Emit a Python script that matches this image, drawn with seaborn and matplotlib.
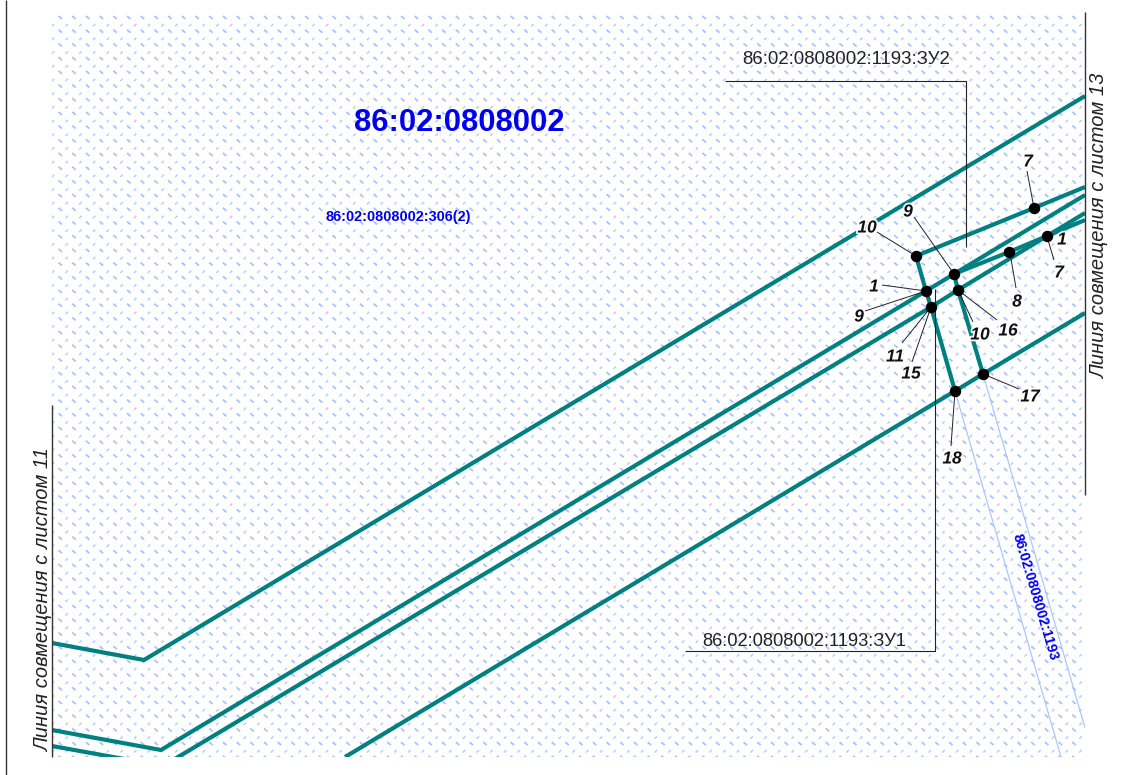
import matplotlib
matplotlib.use("Agg")
import matplotlib.pyplot as plt
import matplotlib.patheffects as pe
from matplotlib.collections import LineCollection
from matplotlib.patches import Rectangle
import numpy as np
import pandas as pd
import seaborn as sns

boundary_lines = {
    "a": [(52, 643), (144, 660), (1085, 96)],
    "b": [(52, 730), (161, 750), (926, 291), (954, 274), (1085, 195)],
    "c": [(52, 746), (163, 766), (931, 307), (958, 290), (1047, 236), (1085, 213)],
    "d": [(345, 757), (955, 391), (983, 374), (1085, 313)],
    "e": [(916, 256), (1034, 208), (1085, 187)],
    "f": [(954, 274), (1009, 252), (1047, 236), (1085, 220)],
    "g": [(916, 256), (926, 291), (931, 307), (955, 391)],
    "h": [(954, 274), (958, 290), (983, 374)],
}
parcel_lines = {
    "p1": [(955, 391), (1061, 757)],
    "p2": [(983, 374), (1085, 728)],
}
callout_lines = {
    "zu2": [(725, 81), (966, 81), (966, 247)],
    "zu1": [(685, 651), (935, 651), (935, 289)],
}
sheet_lines = {
    "left": [(52, 405), (52, 757)],
    "right": [(1085, 12), (1085, 495)],
    "frame": [(6, 0), (6, 775)],
}
dots_x = [916, 1034, 1047, 1009, 954, 926, 958, 931, 955, 983]
dots_y = [256, 208, 236, 252, 274, 291, 290, 307, 391, 374]

point_labels = ["10", "9", "7", "1", "7", "8", "1", "9", "10", "16", "11", "15", "17", "18"]
point_label_x = [867, 908, 1028, 1062, 1059, 1017, 874, 859, 980, 1008, 895, 911, 1030, 952]
point_label_y = [228, 212, 162, 240, 273, 302, 287, 317, 335, 331, 357, 374, 397, 459]
leaders = [
    [(877, 232), (916, 256)],
    [(914, 217), (954, 274)],
    [(1027, 171), (1034, 208)],
    [(1048, 240), (1054, 260)],
    [(1010, 253), (1016, 288)],
    [(882, 285), (926, 291)],
    [(865, 311), (926, 291)],
    [(958, 290), (973, 322)],
    [(958, 290), (997, 320)],
    [(931, 307), (902, 343)],
    [(931, 307), (912, 362)],
    [(983, 374), (1019, 389)],
    [(955, 391), (951, 446)],
]


def draw_lines(ax, lines, color, width, clip=None):
    for name, pts in lines.items():
        before = len(ax.lines)
        df = pd.DataFrame(pts, columns=["x", "y"])
        sns.lineplot(data=df, x="x", y="y", sort=False, estimator=None, color=color,
                     linewidth=width, ax=ax, legend=False)
        for line in ax.lines[before:]:
            line.set_solid_capstyle("butt")
            if clip is not None:
                line.set_clip_path(clip)


sns.set_style("white")
plt.rcParams["font.family"] = ["Liberation Sans", "DejaVu Sans"]

fig, ax = plt.subplots(figsize=(11.44, 7.75), dpi=100)
ax.set_position([0, 0, 1, 1])

clip = Rectangle((52, 12), 1033, 745, transform=ax.transData)

# background hatch of the quarter, just a texture
gx, gy = np.meshgrid(np.arange(53, 1085, 13.7), np.arange(11.5, 757, 13.7))
gx, gy = gx.ravel(), gy.ravel()
keep = (gy > 12)
slash = [[(x - 1.2, y + 1.2), (x + 1.2, y - 1.2)] for x, y in zip(gx[keep], gy[keep])]
back = [[(x + 5.5, y + 4.5), (x + 9, y + 7.5)] for x, y in zip(gx, gy)]
tex = LineCollection(slash, colors="#b6ceff", linewidths=1.1)
ax.add_collection(tex)
tex.set_clip_path(clip)
tex2 = LineCollection(back, colors="#a4c2ff", linewidths=1.25)
ax.add_collection(tex2)
tex2.set_clip_path(clip)

draw_lines(ax, parcel_lines, "#a9c8ff", 0.9, clip)
draw_lines(ax, boundary_lines, "#008080", 3.0, clip)
draw_lines(ax, callout_lines, "#222222", 0.8)
draw_lines(ax, sheet_lines, "#333333", 1.0)

for i, pts in enumerate(leaders):
    draw_lines(ax, {i: pts}, "#222222", 0.7)

sns.scatterplot(x=dots_x, y=dots_y, color="black", s=68, linewidth=0, ax=ax, zorder=5, legend=False)

halo = [pe.withStroke(linewidth=2.5, foreground="white")]
for s, x, y in zip(point_labels, point_label_x, point_label_y):
    ax.text(x, y, s, fontsize=12.5, fontweight="bold", fontstyle="italic", color="#111111",
            ha="center", va="center", path_effects=halo, zorder=6)

ax.text(459, 123, "86:02:0808002", fontsize=22.3, fontweight="bold", color="#0000ee", ha="center", va="center")
ax.text(398, 217, "86:02:0808002:306(2)", fontsize=10.4, fontweight="bold", color="#0000ee", ha="center", va="center")
ax.text(1035, 597, "86:02:0808002:1193", fontsize=10.2, fontweight="bold", color="#0000ee",
        rotation=-73.5, rotation_mode="anchor", ha="center", va="center")
ax.text(846, 59, "86:02:0808002:1193:ЗУ2", fontsize=13.4, color="#222222", ha="center", va="center")
ax.text(804, 642, "86:02:0808002:1193:ЗУ1", fontsize=13.2, color="#222222", ha="center", va="center")
ax.text(44, 600, "Линия совмещения с листом 11", fontsize=14.5, fontstyle="italic", color="#222222",
        rotation=90, ha="center", va="center")
ax.text(1100, 226, "Линия совмещения с листом 13", fontsize=14.5, fontstyle="italic", color="#222222",
        rotation=90, ha="center", va="center")

ax.set_xlim(0, 1144)
ax.set_ylim(775, 0)
ax.axis("off")

fig.savefig("out.png", dpi=100)
